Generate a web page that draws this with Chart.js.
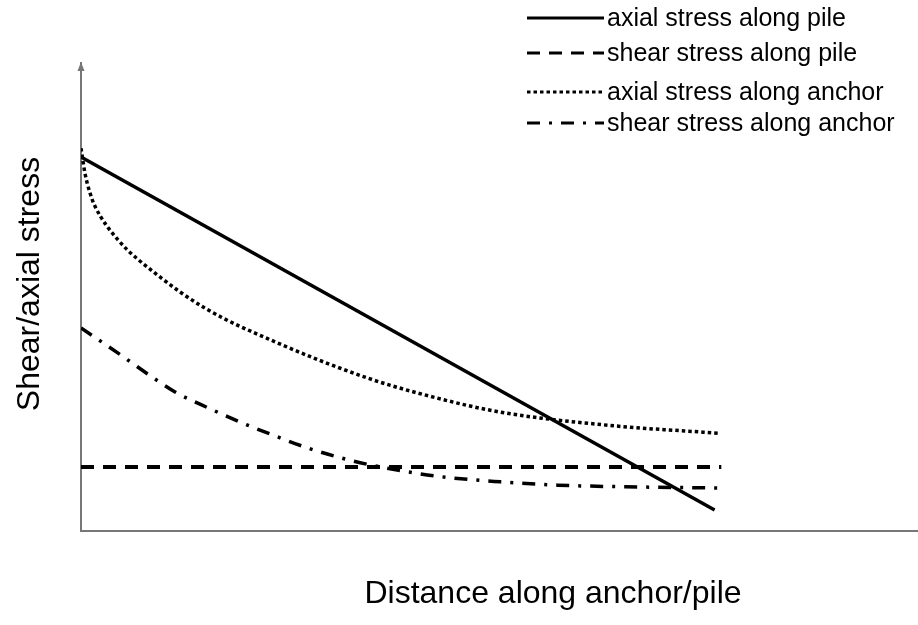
<!DOCTYPE html>
<html>
<head>
<meta charset="utf-8">
<script src="https://cdn.jsdelivr.net/npm/chart.js@4"></script>
<style>
  html, body { margin: 0; padding: 0; background: #fff; }
  #wrap { width: 918px; height: 625px; }
</style>
</head>
<body>
<div id="wrap"><canvas id="stressChart"></canvas></div>
<script>
// Données (unités arbitraires, axes sans graduation)
const seriesLabels = [
  "axial stress along pile",
  "shear stress along pile",
  "axial stress along anchor",
  "shear stress along anchor",
];

// contrainte axiale le long du pieu (droite)
const pileAxialDist = [0, 75.7];
const pileAxialVal = [79.9, 4.5];

// contrainte de cisaillement le long du pieu (constante)
const pileShearDist = [0, 76.5];
const pileShearVal = [13.7, 13.7];

// contrainte axiale le long de l'ancrage
const anchorAxialDist = [0, 0.48, 1.08, 1.67, 4.43, 8.85, 14.83, 23.21, 34.21, 42.11, 50.12, 62.92, 76.08];
const anchorAxialVal = [81.8, 76.4, 72.2, 69.4, 62.2, 55.1, 47.6, 40.4, 32.7, 28.6, 25.4, 22.6, 20.9];

// contrainte de cisaillement le long de l'ancrage
const anchorShearDist = [0, 4.43, 8.01, 11.24, 15.19, 19.26, 23.21, 27.15, 31.94, 35.17, 42.11, 50.12, 56.94, 66.87, 76.08];
const anchorShearVal = [43.4, 38.0, 33.5, 29.7, 26.3, 23.1, 20.3, 17.7, 15.2, 13.9, 11.8, 10.5, 9.8, 9.4, 9.2];

const xTitle = "Distance along anchor/pile";
const yTitle = "Shear/axial stress";

function toPoints(xs, ys) {
  return xs.map((x, i) => ({ x: x, y: ys[i] }));
}

const FONT = "'Liberation Sans', Arial, sans-serif";

// Légende et titres d'axes dessinés à la main
const annotations = {
  id: "annotations",
  afterDraw(chart) {
    const ctx = chart.ctx;
    const area = chart.chartArea;
    ctx.save();

    // flèche en haut de l'axe vertical
    ctx.fillStyle = "#777";
    ctx.beginPath();
    ctx.moveTo(area.left, area.top - 1);
    ctx.lineTo(area.left - 3.5, area.top + 8);
    ctx.lineTo(area.left + 3.5, area.top + 8);
    ctx.closePath();
    ctx.fill();

    // titres des axes
    ctx.fillStyle = "#000";
    ctx.font = "32px " + FONT;
    ctx.textAlign = "center";
    ctx.textBaseline = "middle";
    ctx.fillText(xTitle, 553, 594);
    ctx.translate(30, 284);
    ctx.rotate(-Math.PI / 2);
    ctx.fillText(yTitle, 0, 0);
    ctx.restore();

    // légende
    ctx.save();
    const rows = [18, 53, 92, 123];
    ctx.font = "25px " + FONT;
    ctx.textAlign = "left";
    ctx.textBaseline = "middle";
    chart.data.datasets.forEach((ds, i) => {
      const y = rows[i];
      ctx.strokeStyle = "#000";
      ctx.lineWidth = 3;
      ctx.setLineDash(ds.borderDash || []);
      ctx.beginPath();
      ctx.moveTo(527, y);
      ctx.lineTo(604, y);
      ctx.stroke();
      ctx.setLineDash([]);
      ctx.fillStyle = "#000";
      ctx.fillText(ds.label, 607, y + 1);
    });
    ctx.restore();
  },
};

const ctx = document.getElementById("stressChart").getContext("2d");
new Chart(ctx, {
  type: "line",
  data: {
    datasets: [
      {
        label: seriesLabels[0],
        data: toPoints(pileAxialDist, pileAxialVal),
        borderColor: "#000",
        borderWidth: 3.5,
        borderDash: [],
        tension: 0,
      },
      {
        label: seriesLabels[1],
        data: toPoints(pileShearDist, pileShearVal),
        borderColor: "#000",
        borderWidth: 4,
        borderDash: [13, 9],
        tension: 0,
      },
      {
        label: seriesLabels[2],
        data: toPoints(anchorAxialDist, anchorAxialVal),
        borderColor: "#000",
        borderWidth: 3.5,
        borderDash: [3.5, 3],
        cubicInterpolationMode: "monotone",
      },
      {
        label: seriesLabels[3],
        data: toPoints(anchorShearDist, anchorShearVal),
        borderColor: "#000",
        borderWidth: 3.5,
        borderDash: [13, 9, 3, 9],
        cubicInterpolationMode: "monotone",
      },
    ],
  },
  options: {
    responsive: true,
    maintainAspectRatio: false,
    animation: false,
    layout: {
      padding: { left: 81, top: 63, right: 0, bottom: 94 },
    },
    elements: {
      point: { radius: 0 },
      line: { borderCapStyle: "butt" },
    },
    plugins: {
      legend: { display: false },
      tooltip: { enabled: false },
    },
    scales: {
      x: {
        type: "linear",
        min: 0,
        max: 100,
        ticks: { display: false },
        grid: { display: false },
        border: { display: true, color: "#777", width: 2 },
        afterFit: (scale) => { scale.height = 0; },
      },
      y: {
        type: "linear",
        min: 0,
        max: 100,
        ticks: { display: false },
        grid: { display: false },
        border: { display: true, color: "#777", width: 2 },
        afterFit: (scale) => { scale.width = 0; },
      },
    },
  },
  plugins: [annotations],
});
</script>
</body>
</html>
